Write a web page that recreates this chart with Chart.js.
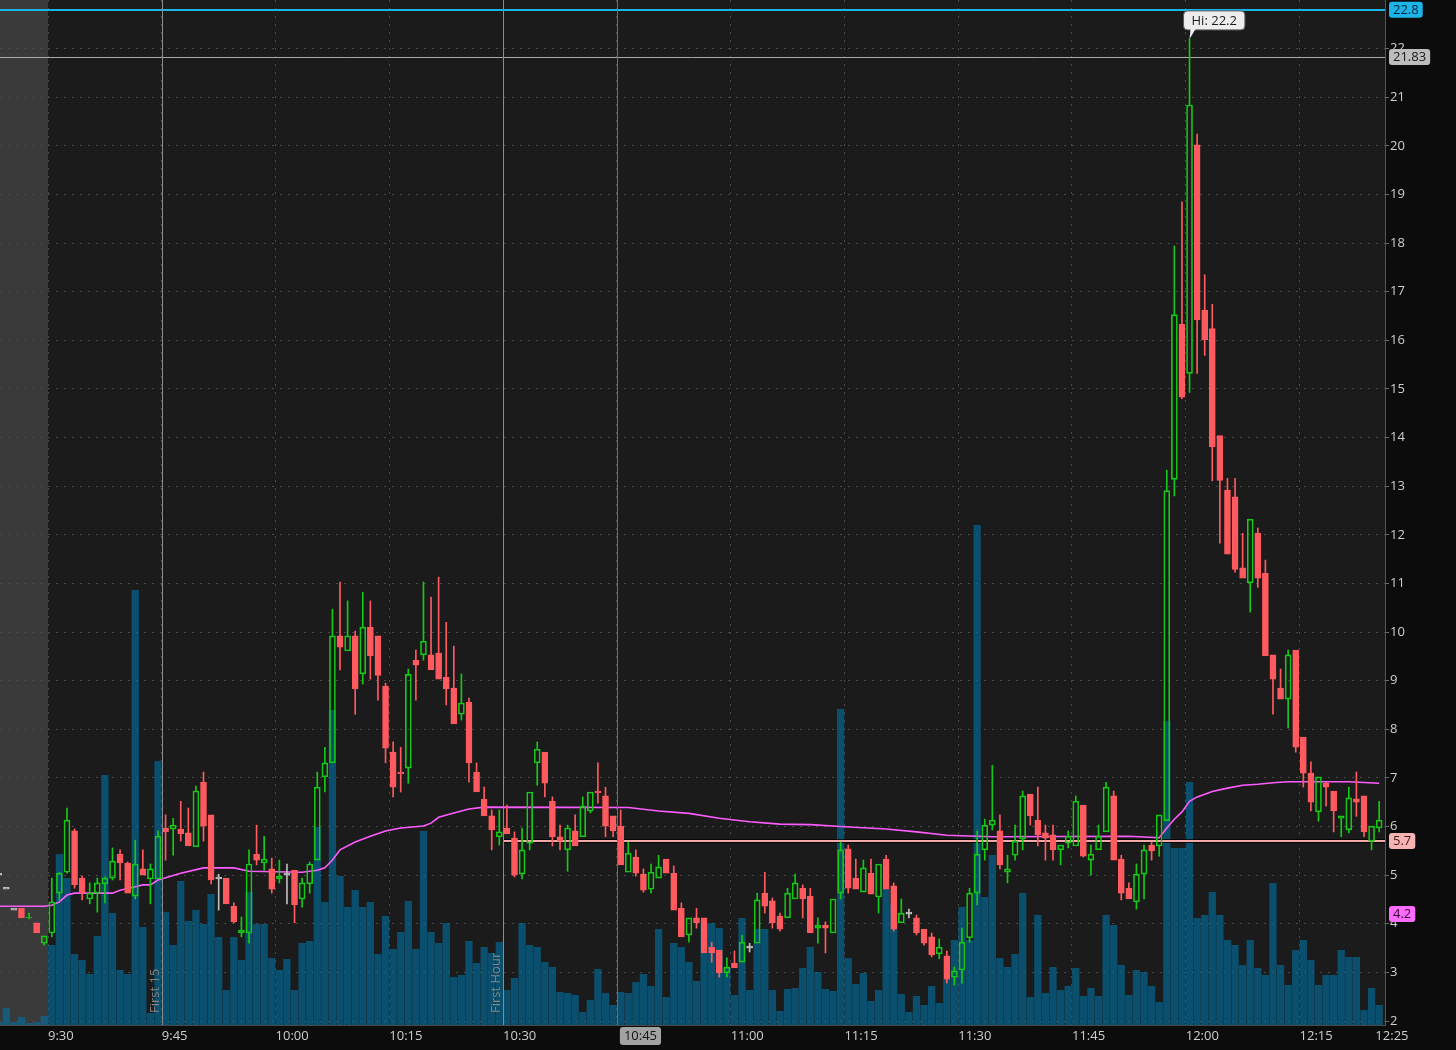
<!DOCTYPE html>
<html>
<head>
<meta charset="utf-8">
<script src="https://cdn.jsdelivr.net/npm/chart.js@4.4.1/dist/chart.umd.min.js"></script>
<style>
  html, body { margin: 0; padding: 0; background: #0c0c0c; overflow: hidden; }
</style>
</head>
<body>
<canvas id="c" width="1456" height="1050"></canvas>
<script>
// one candle per minute; minute 0 is the 9:30 open, negative minutes are pre-market
const firstMinute = -7;

const opens = [
  5.02, 4.73, 4.30, 4.32, 4.12, 4.02, 3.60, 3.81, 4.63, 5.06,
  5.91, 4.94, 4.51, 4.63, 4.82, 4.94, 5.43, 5.25, 4.57, 5.13,
  4.92, 4.92, 5.97, 5.95, 5.95, 5.87, 5.58, 6.91, 6.24, 4.94,
  4.94, 4.36, 3.81, 3.81, 5.43, 5.25, 5.13, 4.92, 5.02, 5.10,
  4.51, 4.82, 5.31, 7.02, 7.31, 9.92, 9.61, 9.92, 9.14, 10.10,
  9.92, 8.89, 7.53, 7.12, 7.20, 9.42, 9.53, 9.53, 9.57, 9.07,
  8.85, 8.31, 8.56, 7.12, 6.56, 6.22, 5.79, 5.97, 5.76, 5.02,
  5.66, 7.31, 7.53, 6.52, 5.79, 5.52, 5.91, 5.79, 6.32, 6.73,
  6.63, 6.22, 6.01, 5.06, 5.37, 5.02, 4.71, 4.94, 5.33, 5.04,
  4.32, 3.77, 4.12, 4.12, 3.52, 3.46, 2.99, 3.19, 3.21, 3.52,
  3.60, 4.63, 4.47, 4.16, 4.12, 4.51, 4.73, 4.57, 3.91, 3.97,
  3.81, 4.63, 5.54, 4.94, 4.65, 5.04, 4.55, 5.33, 4.78, 4.02,
  4.22, 4.12, 3.89, 3.73, 3.38, 3.34, 2.90, 3.05, 3.71, 4.63,
  5.52, 6.03, 5.91, 5.06, 5.41, 5.74, 6.67, 6.13, 5.87, 5.83,
  5.52, 5.66, 5.60, 6.44, 5.31, 5.52, 5.89, 6.63, 5.33, 4.73,
  4.45, 5.02, 5.62, 5.60, 6.12, 13.14, 16.33, 15.32, 20.02, 16.62,
  16.24, 14.04, 12.92, 12.78, 11.32, 11.01, 12.03, 11.21, 9.53, 8.85,
  8.62, 9.63, 7.84, 7.10, 6.30, 6.89, 6.73, 6.17, 5.93, 6.57,
  6.63, 5.70, 5.97
];
const highs = [
  5.02, 4.73, 4.30, 4.32, 4.22, 4.02, 3.75, 4.94, 5.06, 6.38,
  5.95, 4.98, 4.84, 4.94, 4.96, 5.56, 5.52, 5.27, 5.72, 5.52,
  5.23, 5.91, 6.24, 6.17, 6.52, 6.38, 6.83, 7.12, 6.24, 5.02,
  4.94, 4.43, 4.14, 5.52, 6.03, 5.80, 5.35, 5.31, 5.23, 5.10,
  4.94, 5.27, 7.12, 7.63, 10.47, 11.03, 10.64, 10.02, 10.82, 10.64,
  9.92, 8.95, 7.74, 7.63, 9.24, 9.63, 11.03, 10.72, 11.13, 10.20,
  9.71, 9.14, 8.64, 7.31, 6.81, 6.34, 6.34, 6.44, 5.89, 5.97,
  6.71, 7.74, 7.53, 6.61, 6.03, 6.03, 6.24, 6.61, 6.71, 7.31,
  6.81, 6.22, 6.34, 5.68, 5.52, 5.13, 5.23, 5.41, 5.33, 5.19,
  4.43, 4.12, 4.32, 4.12, 3.62, 3.46, 3.30, 3.44, 3.77, 3.60,
  4.63, 5.06, 4.53, 4.22, 4.73, 5.02, 4.80, 4.73, 4.12, 4.04,
  4.51, 5.68, 5.62, 5.33, 5.31, 5.33, 5.23, 5.41, 4.84, 4.51,
  4.30, 4.18, 3.89, 3.81, 3.69, 3.44, 3.11, 3.91, 4.73, 5.91,
  6.15, 7.26, 6.24, 5.41, 6.03, 6.73, 6.67, 6.81, 6.03, 6.03,
  5.62, 5.91, 6.63, 6.44, 5.62, 6.03, 6.91, 6.73, 5.41, 4.84,
  5.23, 5.62, 5.68, 6.24, 13.33, 17.94, 18.85, 22.2, 20.24, 17.35,
  16.74, 14.04, 13.16, 13.16, 12.03, 12.32, 12.14, 11.48, 9.53, 9.24,
  9.63, 9.63, 7.84, 7.33, 7.02, 6.91, 6.73, 6.22, 6.81, 7.12,
  6.63, 6.01, 6.52
];
const lows = [
  5.02, 4.73, 4.30, 4.12, 4.10, 3.81, 3.56, 3.73, 4.49, 5.04,
  4.73, 4.49, 4.41, 4.24, 4.43, 4.90, 4.90, 4.63, 4.51, 5.00,
  4.41, 4.92, 5.31, 5.41, 5.70, 5.60, 5.58, 5.70, 4.82, 4.28,
  4.41, 4.02, 3.73, 3.60, 5.21, 5.10, 4.63, 4.84, 4.41, 4.02,
  4.34, 4.63, 5.31, 6.71, 7.31, 9.22, 9.61, 8.31, 8.93, 9.03,
  8.60, 7.31, 6.61, 6.71, 6.89, 8.60, 9.42, 9.22, 9.03, 8.50,
  8.11, 8.19, 6.91, 6.71, 6.22, 5.52, 5.62, 5.85, 4.96, 4.92,
  5.52, 6.85, 6.61, 5.60, 5.52, 5.08, 5.60, 5.79, 6.28, 6.48,
  5.79, 5.79, 5.21, 5.06, 4.98, 4.65, 4.63, 4.94, 5.04, 4.28,
  3.73, 3.62, 3.91, 3.40, 3.21, 2.90, 2.90, 3.09, 3.21, 3.42,
  3.60, 4.22, 3.91, 3.85, 4.12, 4.51, 4.12, 3.81, 3.60, 3.40,
  3.81, 4.51, 4.63, 4.71, 4.65, 4.61, 4.22, 4.71, 3.85, 4.02,
  4.12, 3.77, 3.56, 3.32, 3.28, 2.78, 2.74, 2.78, 3.62, 4.39,
  5.31, 5.93, 5.13, 4.84, 5.31, 5.52, 6.03, 5.60, 5.31, 5.31,
  5.21, 5.56, 5.60, 5.37, 5.00, 5.52, 5.89, 5.31, 4.49, 4.51,
  4.30, 4.51, 5.31, 5.39, 6.12, 12.80, 14.80, 14.93, 15.32, 15.69,
  13.11, 11.83, 11.60, 11.23, 11.11, 10.41, 10.92, 9.51, 8.31, 8.62,
  8.03, 7.53, 6.81, 6.32, 6.11, 6.42, 5.89, 5.79, 5.87, 6.21,
  5.79, 5.52, 5.89
];
const closes = [
  5.02, 4.73, 4.30, 4.12, 4.13, 3.81, 3.75, 4.45, 5.04, 6.13,
  4.80, 4.63, 4.63, 4.84, 4.94, 5.29, 5.25, 4.63, 5.23, 5.00,
  5.13, 5.80, 5.89, 6.03, 5.85, 5.60, 6.73, 6.01, 4.90, 4.94,
  4.41, 4.04, 3.87, 5.23, 5.31, 5.33, 4.71, 4.98, 5.02, 4.39,
  4.84, 5.23, 6.81, 7.31, 9.92, 9.69, 9.92, 8.83, 10.10, 9.51,
  9.11, 7.61, 6.81, 7.08, 9.13, 9.32, 9.81, 9.22, 9.03, 8.83,
  8.11, 8.54, 7.31, 6.71, 6.22, 5.93, 5.89, 5.85, 5.00, 5.52,
  6.71, 7.59, 6.89, 5.79, 5.70, 5.97, 5.60, 6.42, 6.71, 6.69,
  6.01, 5.91, 5.21, 5.45, 5.04, 4.69, 5.06, 5.17, 5.04, 4.28,
  3.73, 4.12, 4.02, 3.40, 3.40, 2.99, 3.11, 3.09, 3.62, 3.52,
  4.49, 4.36, 4.02, 3.89, 4.63, 4.84, 4.51, 3.81, 3.97, 3.91,
  4.51, 5.52, 4.73, 4.71, 5.15, 4.61, 5.23, 4.71, 3.89, 4.22,
  4.22, 3.81, 3.60, 3.36, 3.52, 2.86, 3.03, 3.62, 4.63, 5.43,
  6.03, 6.13, 5.21, 5.13, 5.70, 6.63, 6.22, 5.83, 5.76, 5.52,
  5.62, 5.80, 6.52, 5.39, 5.43, 5.80, 6.81, 5.31, 4.63, 4.51,
  5.02, 5.52, 5.50, 6.24, 12.91, 16.53, 14.83, 20.84, 16.42, 16.01,
  13.81, 13.12, 11.60, 11.29, 11.11, 12.32, 11.11, 9.51, 9.03, 8.62,
  9.53, 7.63, 7.10, 6.50, 7.02, 6.81, 6.32, 6.22, 6.59, 6.50,
  5.89, 6.01, 6.13
];
// volume in arbitrary units (read as bar height)
const volumes = [
  0.3, 1.7, 0.3, 0.8, 0.2, 0.3, 0.9, 8.0, 17.1, 14.7,
  7.1, 6.5, 5.1, 8.9, 25.0, 11.2, 5.5, 5.1, 43.5, 9.8,
  1.2, 26.4, 11.3, 8.0, 14.4, 10.4, 11.5, 10.1, 13.1, 8.8,
  3.5, 8.8, 6.5, 13.3, 10.1, 10.1, 6.7, 5.5, 6.6, 3.5,
  8.2, 8.4, 19.8, 12.3, 31.5, 14.9, 11.8, 13.5, 11.8, 12.3,
  7.1, 10.9, 7.6, 9.3, 12.4, 7.6, 19.4, 9.3, 8.2, 10.2,
  4.8, 5.0, 8.4, 6.2, 7.8, 7.2, 8.3, 3.5, 4.7, 10.2,
  8.0, 7.8, 6.3, 5.8, 3.3, 3.2, 3.0, 1.3, 2.5, 5.6,
  3.2, 2.0, 3.3, 3.2, 4.3, 5.1, 3.9, 9.6, 2.8, 8.2,
  7.8, 6.3, 4.4, 10.2, 10.2, 9.7, 5.7, 3.0, 10.7, 3.5,
  9.6, 9.6, 3.5, 1.4, 3.6, 3.7, 5.7, 7.8, 5.3, 3.6,
  3.4, 31.6, 6.7, 4.1, 5.2, 2.4, 3.5, 13.6, 12.0, 3.1,
  1.3, 2.9, 2.0, 3.9, 2.2, 4.6, 8.5, 11.8, 8.5, 50.0,
  12.8, 17.0, 6.7, 5.8, 7.1, 13.2, 2.8, 11.0, 3.2, 5.8,
  3.5, 3.9, 5.7, 2.9, 3.7, 2.9, 11.0, 10.0, 6.0, 3.0,
  5.5, 5.3, 3.9, 2.3, 30.4, 17.7, 17.7, 24.3, 10.7, 11.0,
  13.3, 11.0, 8.5, 8.0, 6.0, 8.5, 5.7, 5.0, 14.2, 6.0,
  4.0, 7.5, 8.5, 6.5, 4.0, 5.0, 5.0, 7.5, 6.8, 6.8,
  1.5, 3.7, 2.0
];

// VWAP line, read at the minutes where it bends
const vwapMinutes = [-7, -1, 0, 1, 2, 3, 8, 9, 11, 12, 13, 14, 17, 20, 24, 26, 33, 35, 36, 37,
  38, 40, 42, 44, 46, 49, 50, 51, 53, 55, 57, 76, 80, 84, 88, 92, 96, 100, 104, 110,
  114, 118, 124, 142, 146, 147, 148, 149, 150, 151, 153, 155, 157, 159, 161, 163, 171, 175];
const vwapValues = [4.36, 4.36, 4.38, 4.45, 4.59, 4.63, 4.63, 4.69, 4.76, 4.80, 4.80, 4.90, 5.04, 5.15, 5.15, 5.08, 5.06, 5.10, 5.15, 5.31,
  5.52, 5.68, 5.80, 5.91, 5.97, 6.01, 6.07, 6.19, 6.28, 6.36, 6.40, 6.39, 6.32, 6.27, 6.17, 6.10, 6.05, 6.04, 6.00, 5.95,
  5.89, 5.82, 5.79, 5.80, 5.77, 5.97, 6.15, 6.30, 6.52, 6.61, 6.72, 6.79, 6.85, 6.87, 6.90, 6.92, 6.92, 6.89];

const priceTicks = [2, 3, 4, 5, 6, 7, 8, 9, 10, 11, 12, 13, 14, 15, 16, 17, 18, 19, 20, 21, 22];
const timeTicks = [0, 15, 30, 45, 60, 75, 90, 105, 120, 135, 150, 165, 175];
const priceLevels = [22.8, 21.83, 5.7, 4.2];
const sessionMarks = [15, 60];
const sessionNames = ['First 15', 'First Hour'];
const cursorMinute = 75;

// ---- look ----
const UP = '#16c916', DOWN = '#ff5a5f', FLAT = '#bdbdbd';
const GRID = '#4a4a4a';
const FONT = '"Open Sans", "DejaVu Sans", sans-serif';
const levelLooks = [
  { line: '#1db4ea', width: 2, tag: '#1db4ea', ink: '#062536' },
  { line: '#a9a9a9', width: 1, tag: '#bdbdbd', ink: '#1b1b1b' },
  { line: '#f4a9a9', width: 2, tag: '#f7b3b3', ink: '#3b1c1c', from: 60, outline: true },
  { line: null, tag: '#ff6bff', ink: '#2b0a2b' }
];

function clock(m) {
  const t = 9 * 60 + 30 + m;
  const mm = t % 60;
  return Math.floor(t / 60) + ':' + (mm < 10 ? '0' : '') + mm;
}

const xs = opens.map((o, i) => firstMinute + i + 0.5);
const dirs = opens.map((o, i) => Math.sign(closes[i] - o));
const tone = dirs.map(d => d > 0 ? UP : d < 0 ? DOWN : FLAT);
const bodyTop = i => Math.max(opens[i], closes[i]);
const bodyBot = i => Math.min(opens[i], closes[i]);

const bodies = xs.map((x, i) => ({ x, y: dirs[i] === 0 ? [opens[i] - 0.02, opens[i] + 0.02] : [bodyBot(i), bodyTop(i)] }));
const upperWicks = xs.map((x, i) => ({ x, y: highs[i] > bodyTop(i) ? [bodyTop(i), highs[i]] : null }));
const lowerWicks = xs.map((x, i) => ({ x, y: lows[i] < bodyBot(i) ? [lows[i], bodyBot(i)] : null }));
const volumeBars = xs.map((x, i) => ({ x, y: volumes[i] }));
const vwapLine = vwapMinutes.map((m, i) => ({ x: m + 0.5, y: vwapValues[i] }));

function roundBox(ctx, x, y, w, h, r) {
  ctx.beginPath();
  ctx.moveTo(x + r, y);
  ctx.arcTo(x + w, y, x + w, y + h, r);
  ctx.arcTo(x + w, y + h, x, y + h, r);
  ctx.arcTo(x, y + h, x, y, r);
  ctx.arcTo(x, y, x + w, y, r);
  ctx.closePath();
}

const overlays = {
  id: 'overlays',
  beforeDraw(chart) {
    const { ctx, chartArea: a } = chart;
    const xScale = chart.scales.x;
    ctx.save();
    ctx.fillStyle = '#0c0c0c';
    ctx.fillRect(0, 0, chart.width, chart.height);
    ctx.fillStyle = '#1b1b1b';
    ctx.fillRect(a.left, a.top, a.right - a.left, a.bottom - a.top);
    ctx.fillStyle = '#3a3a3a';
    ctx.fillRect(a.left, a.top, xScale.getPixelForValue(0) - a.left, a.bottom - a.top);
    ctx.restore();
  },
  afterDatasetDraw(chart, args) {
    if (args.index !== 0) return;
    const { ctx, chartArea: a } = chart;
    const y = chart.scales.y, x = chart.scales.x;
    ctx.save();
    priceLevels.forEach((p, i) => {
      const look = levelLooks[i];
      if (!look.line) return;
      const py = Math.round(y.getPixelForValue(p)) + (look.width === 1 ? 0.5 : 0);
      const x0 = look.from !== undefined ? x.getPixelForValue(look.from) : a.left;
      if (look.outline) {
        ctx.strokeStyle = 'rgba(0,0,0,0.8)';
        ctx.lineWidth = look.width + 2;
        ctx.beginPath(); ctx.moveTo(x0, py); ctx.lineTo(a.right, py); ctx.stroke();
      }
      ctx.strokeStyle = look.line;
      ctx.lineWidth = look.width;
      ctx.beginPath(); ctx.moveTo(x0, py); ctx.lineTo(a.right, py); ctx.stroke();
    });
    ctx.restore();
  },
  afterDatasetsDraw(chart) {
    const { ctx, chartArea: a } = chart;
    const x = chart.scales.x;
    ctx.save();
    ctx.lineWidth = 1;
    const cx = Math.round(x.getPixelForValue(cursorMinute)) + 0.5;
    ctx.strokeStyle = '#6e6e6e';
    ctx.beginPath(); ctx.moveTo(cx, a.top); ctx.lineTo(cx, a.bottom); ctx.stroke();
    sessionMarks.forEach((m, i) => {
      const px = Math.round(x.getPixelForValue(m)) + 0.5;
      ctx.strokeStyle = '#8c8c8c';
      ctx.beginPath(); ctx.moveTo(px, a.top); ctx.lineTo(px, a.bottom); ctx.stroke();
      ctx.save();
      ctx.translate(px - 4, a.bottom - 12);
      ctx.rotate(-Math.PI / 2);
      ctx.fillStyle = '#858585';
      ctx.font = '13px ' + FONT;
      ctx.textAlign = 'left';
      ctx.textBaseline = 'alphabetic';
      ctx.fillText(sessionNames[i], 0, 0);
      ctx.restore();
    });
    ctx.restore();
  },
  afterDraw(chart) {
    const { ctx, chartArea: a } = chart;
    const x = chart.scales.x, y = chart.scales.y;
    ctx.save();
    ctx.font = '13px ' + FONT;
    ctx.textBaseline = 'middle';
    // price tags on the right axis
    priceLevels.forEach((p, i) => {
      const look = levelLooks[i];
      const py = y.getPixelForValue(p);
      const text = String(p);
      const w = ctx.measureText(text).width + 8;
      roundBox(ctx, a.right + 4, py - 8, w, 16, 3);
      ctx.fillStyle = look.tag; ctx.fill();
      ctx.fillStyle = look.ink;
      ctx.textAlign = 'left';
      ctx.fillText(text, a.right + 8, py + 0.5);
    });
    // cursor time box
    const cx = x.getPixelForValue(cursorMinute);
    const ct = clock(cursorMinute);
    const cw = ctx.measureText(ct).width + 8;
    roundBox(ctx, cx + 3, a.bottom + 2, cw, 18, 3);
    ctx.fillStyle = '#a2a2a2'; ctx.fill();
    ctx.fillStyle = '#141414';
    ctx.textAlign = 'center';
    ctx.fillText(ct, cx + 3 + cw / 2, a.bottom + 11.5);
    // session high callout
    let hi = 0;
    highs.forEach((h, i) => { if (h > highs[hi]) hi = i; });
    const px = x.getPixelForValue(xs[hi]);
    const py = y.getPixelForValue(highs[hi]);
    const label = 'Hi: ' + highs[hi];
    const bw = ctx.measureText(label).width + 16, bh = 19;
    const bx = px - 6, by = py - 28;
    roundBox(ctx, bx, by, bw, bh, 4);
    ctx.fillStyle = '#ededed'; ctx.fill();
    ctx.strokeStyle = '#5a5a5a'; ctx.lineWidth = 1; ctx.stroke();
    ctx.beginPath();
    ctx.moveTo(px + 1, by + bh - 1);
    ctx.lineTo(px + 6, by + bh - 1);
    ctx.lineTo(px, py);
    ctx.closePath();
    ctx.fillStyle = '#ededed'; ctx.fill();
    ctx.fillStyle = '#1c1c1c';
    ctx.textAlign = 'left';
    ctx.fillText(label, bx + 8, by + bh / 2 + 0.5);
    ctx.restore();
  }
};

new Chart(document.getElementById('c'), {
  type: 'bar',
  data: {
    datasets: [
      { label: 'Volume', data: volumeBars, yAxisID: 'yv', order: 10, grouped: false,
        backgroundColor: 'rgba(0,112,160,0.62)', borderWidth: 0,
        barPercentage: 0.96, categoryPercentage: 1 },
      { type: 'line', label: 'VWAP', data: vwapLine, yAxisID: 'y', order: 6,
        borderColor: '#ff5cff', borderWidth: 1.6, pointRadius: 0, tension: 0 },
      { label: 'Low wick', data: lowerWicks, yAxisID: 'y', order: 3, grouped: false,
        backgroundColor: tone, borderWidth: 0, barThickness: 1 },
      { label: 'High wick', data: upperWicks, yAxisID: 'y', order: 3, grouped: false,
        backgroundColor: tone, borderWidth: 0, barThickness: 1 },
      { label: 'Body', data: bodies, yAxisID: 'y', order: 1, grouped: false,
        backgroundColor: dirs.map(d => d > 0 ? 'rgba(0,0,0,0)' : d < 0 ? DOWN : FLAT),
        borderColor: tone, borderWidth: 1, borderSkipped: false, barThickness: 6 }
    ]
  },
  options: {
    responsive: false,
    animation: false,
    devicePixelRatio: 1,
    events: [],
    layout: { padding: 0 },
    plugins: { legend: { display: false }, tooltip: { enabled: false } },
    scales: {
      x: {
        type: 'linear',
        offset: false,
        min: -6.33,
        max: 176.27,
        afterBuildTicks: s => { s.ticks = timeTicks.map(v => ({ value: v })); },
        afterFit: s => { s.height = 25; s.paddingLeft = 0; s.paddingRight = 0; },
        ticks: {
          autoSkip: false, maxRotation: 0, minRotation: 0,
          align: 'start', padding: 3,
          color: '#cfcfcf', font: { family: FONT, size: 13 },
          callback: v => v === cursorMinute ? '' : clock(v)
        },
        grid: {
          offset: false, drawTicks: false, lineWidth: 1,
          color: c => (c.tick && c.tick.value % 15 === 0) ? GRID : 'rgba(0,0,0,0)'
        },
        border: { display: true, color: '#4a4a4a', dash: [2, 6] }
      },
      y: {
        type: 'linear',
        position: 'right',
        min: 1.918,
        max: 23.0,
        afterBuildTicks: s => { s.ticks = priceTicks.map(v => ({ value: v })); },
        afterFit: s => { s.width = 71; s.paddingTop = 0; s.paddingBottom = 0; },
        ticks: { color: '#cfcfcf', font: { family: FONT, size: 13 }, padding: 1 },
        grid: { color: GRID, lineWidth: 1, drawTicks: true, tickLength: 4, tickColor: '#6c6c6c', tickBorderDash: [] },
        border: { display: true, color: '#565656', dash: [2, 6] }
      },
      yv: { type: 'linear', display: false, min: 0, max: 102.5 }
    }
  },
  plugins: [overlays]
});
</script>
</body>
</html>
